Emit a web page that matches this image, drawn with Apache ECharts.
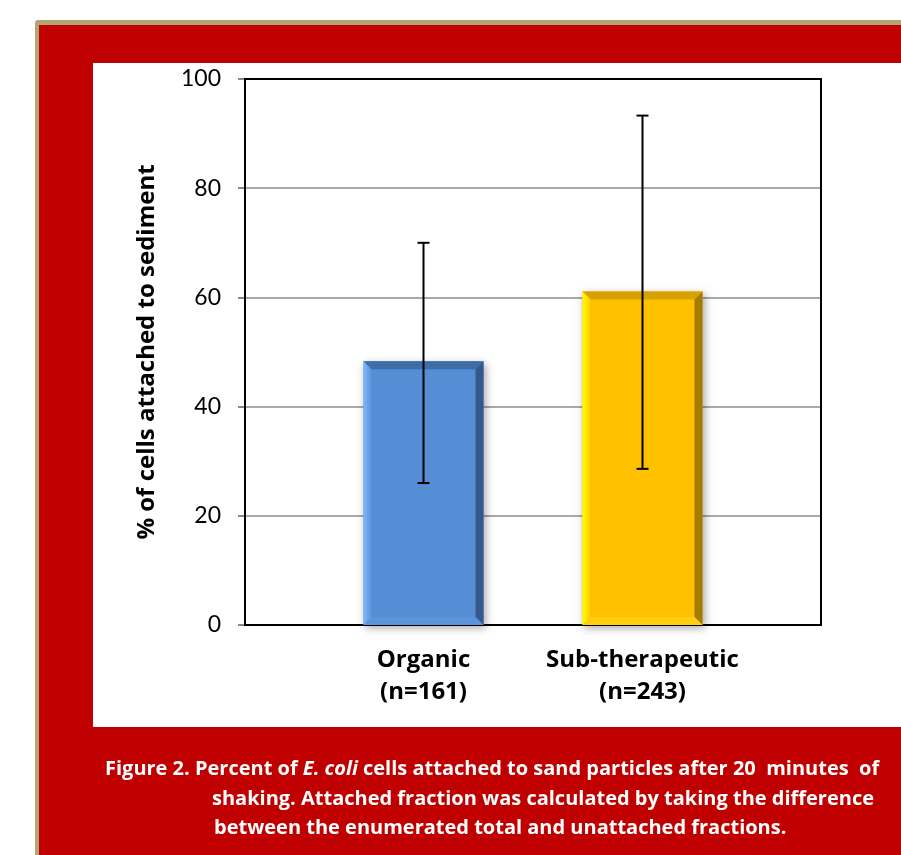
<!DOCTYPE html>
<html>
<head>
<meta charset="utf-8">
<script src="https://cdn.jsdelivr.net/npm/echarts@6/dist/echarts.min.js"></script>
<style>
html,body{margin:0;padding:0;background:#fff;}
#chart{width:901px;height:855px;}
</style>
</head>
<body>
<div id="chart"></div>
<script>
// ---- data ----
var categories = ['Organic\n(n=161)', 'Sub-therapeutic\n(n=243)'];
var means = [48.3, 61.1];
var errLow = [26.0, 28.6];
var errHigh = [70.0, 93.3];
var yTicks = [0, 20, 40, 60, 80, 100];
var yAxisTitle = '% of cells attached to sediment';
var captionLines = [
  'Figure 2. Percent of {i|E. coli} cells attached to sand particles after 20  minutes  of',
  'shaking. Attached fraction was calculated by taking the difference',
  'between the enumerated total and unattached fractions.'
];

var palettes = [
  {main:'#558ED5', top:'#3F6DAA', right:'#34588A', bottom:'#5B94D8', leftA:'#7DB8FF', leftB:'#5A93DA'},
  {main:'#FFC000', top:'#D7A200', right:'#A27B00', bottom:'#FFCE10', leftA:'#FFFF00', leftB:'#FFCC00'}
];

var chart = echarts.init(document.getElementById('chart'), null, {renderer:'canvas'});
var FONT = 'Lato, "Open Sans", sans-serif';
var BFONT = '"Open Sans", Lato, sans-serif';

function barItem(params, api) {
  var idx = api.value(0);
  var v = api.value(1);
  var pT = api.coord([idx, v]);
  var pB = api.coord([idx, 0]);
  var w = api.size([1, 0])[0] * 0.548;
  var x0 = pT[0] - w / 2, x1 = pT[0] + w / 2, yT = pT[1], yB = pB[1];
  var b = 8;
  var c = palettes[params.dataIndex];
  return {
    type: 'group',
    children: [
      {type:'rect', shape:{x:x0, y:yT, width:w, height:yB-yT}, style:{fill:c.main, shadowBlur:8, shadowColor:'rgba(0,0,0,0.35)', shadowOffsetX:2, shadowOffsetY:3}},
      {type:'polygon', shape:{points:[[x0,yT],[x1,yT],[x1-b,yT+b],[x0+b,yT+b]]}, style:{fill:c.top}},
      {type:'polygon', shape:{points:[[x1,yT],[x1,yB],[x1-b,yB-b],[x1-b,yT+b]]}, style:{fill:c.right}},
      {type:'polygon', shape:{points:[[x0,yB],[x0+b,yB-b],[x1-b,yB-b],[x1,yB]]}, style:{fill:c.bottom}},
      {type:'polygon', shape:{points:[[x0,yT],[x0+b,yT+b],[x0+b,yB-b],[x0,yB]]},
        style:{fill:new echarts.graphic.LinearGradient(0,0,1,0,[{offset:0,color:c.leftA},{offset:1,color:c.leftB}])}}
    ]
  };
}

function errItem(params, api) {
  var idx = api.value(0);
  var pL = api.coord([idx, api.value(1)]);
  var pH = api.coord([idx, api.value(2)]);
  var cap = 6;
  var st = {stroke:'#000', lineWidth:2};
  return {
    type:'group',
    children:[
      {type:'line', shape:{x1:pL[0], y1:pL[1], x2:pH[0], y2:pH[1]}, style:st},
      {type:'line', shape:{x1:pH[0]-cap, y1:pH[1], x2:pH[0]+cap, y2:pH[1]}, style:st},
      {type:'line', shape:{x1:pL[0]-cap, y1:pL[1], x2:pL[0]+cap, y2:pL[1]}, style:st}
    ]
  };
}

var barData = means.map(function(v, i){ return [i, v]; });
var errData = means.map(function(v, i){ return [i, errLow[i], errHigh[i]]; });

var graphics = [
  {type:'rect', z:-10, shape:{x:35, y:20, width:900, height:900, r:3}, style:{fill:'#B3A574'}},
  {type:'rect', z:-9, shape:{x:39, y:25, width:900, height:900}, style:{fill:'#C00000'}},
  {type:'rect', z:-8, shape:{x:93, y:63, width:900, height:664}, style:{fill:'#FFFFFF'}}
];
var capX = [105, 212, 214];
var capY = [768, 798, 827];
captionLines.forEach(function(t, i){
  graphics.push({
    type:'text', z:5, left:capX[i], top:capY[i]-9,
    style:{text:t, fill:'#fff', font:'bold 20px ' + BFONT,
      rich:{i:{fill:'#fff', fontStyle:'italic', fontWeight:'bold', fontSize:20, fontFamily:BFONT}}}
  });
});

chart.setOption({
  animation:false,
  backgroundColor:'#fff',
  graphic: graphics,
  grid:[
    {left:245, top:79, width:576, height:546, show:true, borderColor:'#000', borderWidth:2, backgroundColor:'transparent', z:1},
    {left:314, top:79, width:438, height:546, show:false}
  ],
  xAxis:[
    {gridIndex:0, type:'value', min:0, max:1, axisLabel:{show:false}, axisTick:{show:false}, splitLine:{show:false},
      axisLine:{show:true, lineStyle:{color:'#888', width:2}}},
    {gridIndex:1, type:'category', data:categories, axisLine:{show:false}, axisTick:{show:false},
      axisLabel:{interval:0, hideOverlap:false, color:'#000', fontFamily:BFONT, fontWeight:'bold', fontSize:24, lineHeight:32, margin:19}}
  ],
  yAxis:[
    {gridIndex:0, type:'value', min:0, max:100, interval:20,
      name:yAxisTitle, nameLocation:'middle', nameGap:86, nameRotate:90,
      nameTextStyle:{color:'#000', fontFamily:BFONT, fontWeight:'bold', fontSize:24},
      axisLine:{show:true, lineStyle:{color:'#888', width:2}},
      axisTick:{show:true, length:7, lineStyle:{color:'#888', width:2}},
      axisLabel:{color:'#000', fontFamily:FONT, fontSize:23, margin:24,
        formatter:function(v){ return yTicks.indexOf(v) >= 0 ? String(v) : ''; }},
      splitLine:{show:true, lineStyle:{color:'#8c8c8c', width:1.5}}},
    {gridIndex:1, type:'value', min:0, max:100, interval:20, show:false, splitLine:{show:false}}
  ],
  series:[
    {type:'custom', xAxisIndex:1, yAxisIndex:1, renderItem:barItem, data:barData, z:3},
    {type:'custom', xAxisIndex:1, yAxisIndex:1, renderItem:errItem, data:errData, z:4}
  ]
});
</script>
</body>
</html>
